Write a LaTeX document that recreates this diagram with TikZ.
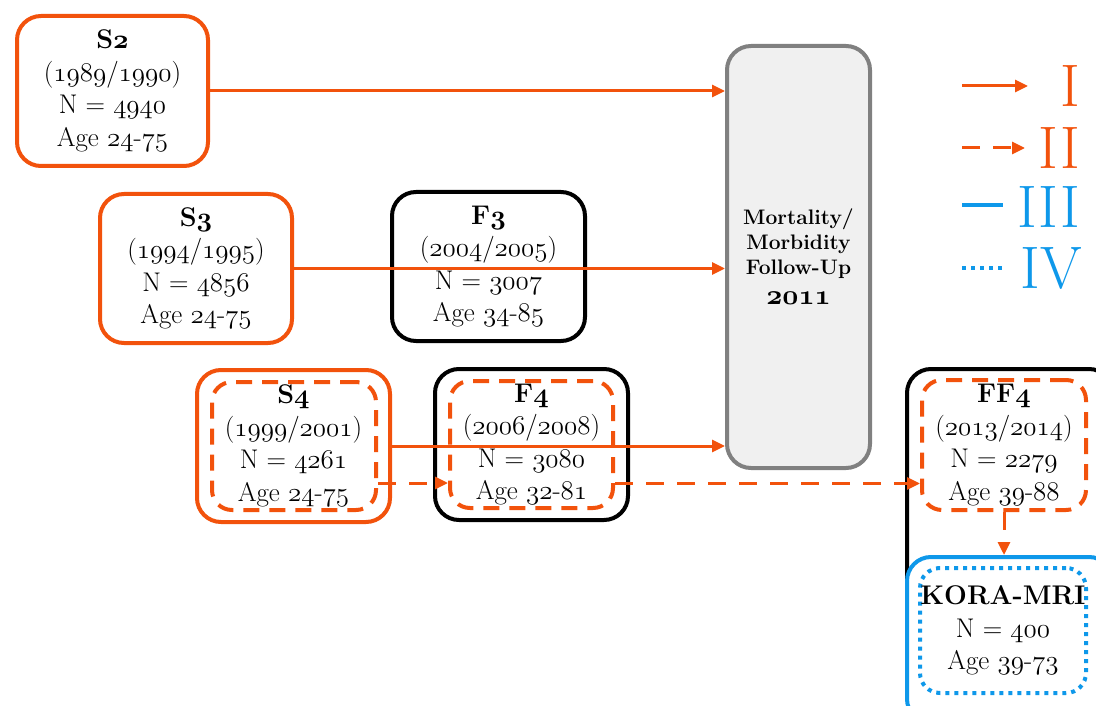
\RequirePackage{fix-cm}
\documentclass[tikz,border=0pt]{standalone}
\usetikzlibrary{arrows.meta}

\definecolor{korange}{RGB}{242,82,12}
\definecolor{kblue}{RGB}{14,152,234}
\definecolor{kgray}{RGB}{128,128,128}
\definecolor{kfill}{RGB}{240,240,240}

% old style figures from the math italic, regular and bold
\newcommand{\onum}[1]{{\fontencoding{OML}\fontfamily{cmm}\fontseries{m}\fontshape{it}\selectfont #1}}
\newcommand{\bnum}[1]{{\fontencoding{OML}\fontfamily{cmm}\fontseries{b}\fontshape{it}\selectfont #1}}

\tikzset{
  box/.style={draw, line width=4pt, rounded corners=24pt, fill=white, align=center,
    inner sep=0pt, font=\fontsize{27}{32.5}\selectfont},
  obox/.style={box, draw=korange},
  bbox/.style={box, draw=black},
  dbox/.style={box, draw=korange, fill=none, rounded corners=20pt, dash pattern=on 16pt off 10pt},
  kbox/.style={box, draw=kblue},
  pbox/.style={box, draw=kblue, fill=none, rounded corners=20pt, dash pattern=on 4pt off 5pt},
  arr/.style={korange, line width=3pt, -{Triangle[length=13pt,width=12pt]}},
  darr/.style={arr, dash pattern=on 18pt off 13pt},
  leg/.style={font=\fontsize{60}{60}\selectfont, anchor=east, inner sep=0pt}
}

\begin{document}
\begin{tikzpicture}[x=1pt, y=-1pt]
\useasboundingbox (0,0) rectangle (1096,706);

% surveys
\node[obox, minimum width=191pt, minimum height=150pt] (s2) at (112.5,91)
  {\textbf{S\bnum{2}}\\(\onum{1989}/\onum{1990})\\N = \onum{4940}\\Age \onum{24}-\onum{75}};
\node[obox, minimum width=192pt, minimum height=149pt] (s3) at (196,268.5)
  {\textbf{S\bnum{3}}\\(\onum{1994}/\onum{1995})\\N = \onum{4856}\\Age \onum{24}-\onum{75}};
\node[obox, minimum width=193pt, minimum height=152pt] (s4) at (293.5,446)
  {\textbf{S\bnum{4}}\\(\onum{1999}/\onum{2001})\\N = \onum{4261}\\Age \onum{24}-\onum{75}};
\node[dbox, minimum width=164pt, minimum height=128pt] (s4in) at (294,446) {};

% follow-ups
\node[bbox, minimum width=193pt, minimum height=149pt] (f3) at (488.5,266.5)
  {\textbf{F\bnum{3}}\\(\onum{2004}/\onum{2005})\\N = \onum{3007}\\Age \onum{34}-\onum{85}};
\node[bbox, minimum width=193pt, minimum height=151pt] (f4) at (531.5,444.5)
  {\textbf{F\bnum{4}}\\(\onum{2006}/\onum{2008})\\N = \onum{3080}\\Age \onum{32}-\onum{81}};
\node[dbox, minimum width=163pt, minimum height=127pt] (f4in) at (531.5,444.5) {};

\node[box, draw=kgray, fill=kfill, minimum width=143pt, minimum height=422pt,
  font=\bfseries\fontsize{21}{25}\selectfont] (mort) at (798.5,257)
  {Mortality/\\Morbidity\\Follow-Up\\[5pt]\fontsize{28}{25}\selectfont\bnum{2011}};

\node[bbox, minimum width=206pt, minimum height=262pt] (ff4) at (1010,500) {};
\node[kbox, minimum width=206pt, minimum height=166pt] (kora) at (1010,640) {};
\node[dbox, minimum width=164pt, minimum height=130pt] (ff4in) at (1004,445)
  {\textbf{FF\bnum{4}}\\(\onum{2013}/\onum{2014})\\N = \onum{2279}\\Age \onum{39}-\onum{88}};
\node[pbox, minimum width=166pt, minimum height=125pt] (korain) at (1003,630.5)
  {\textbf{KORA-MRI}\\N = \onum{400}\\Age \onum{39}-\onum{73}};

% connectors
\draw[arr] (s2.east) -- (s2.east -| mort.west);
\draw[arr] (s3.east) -- (s3.east -| mort.west);
\draw[arr] (s4.east) -- (s4.east -| mort.west);
\draw[darr] ([yshift=-37pt]s4in.east) -- ([yshift=-37pt]s4in.east -| f4in.west);
\draw[darr] ([yshift=-39pt]f4in.east) -- ([yshift=-39pt]f4in.east -| ff4in.west);
\draw[darr] (ff4in.south) -- (ff4in.south |- kora.north);

% legend
\node[leg, text=korange] (l1) at (1080,86) {I};
\node[leg, text=korange] (l2) at (1080,148) {II};
\node[leg, text=kblue] (l3) at (1080,207) {III};
\node[leg, text=kblue] (l4) at (1082,268) {IV};
\coordinate (k1) at (962,86);
\coordinate (k2) at (962,148);
\coordinate (k3) at (962,205);
\coordinate (k4) at (962,268);
\draw[arr] (k1) -- ++(66,0);
\draw[darr] (k2) -- ++(63,0);
\draw[kblue, line width=4pt] (k3) -- ++(41,0);
\draw[kblue, line width=4pt, dash pattern=on 4pt off 5pt] (k4) -- ++(41,0);
\end{tikzpicture}
\end{document}
